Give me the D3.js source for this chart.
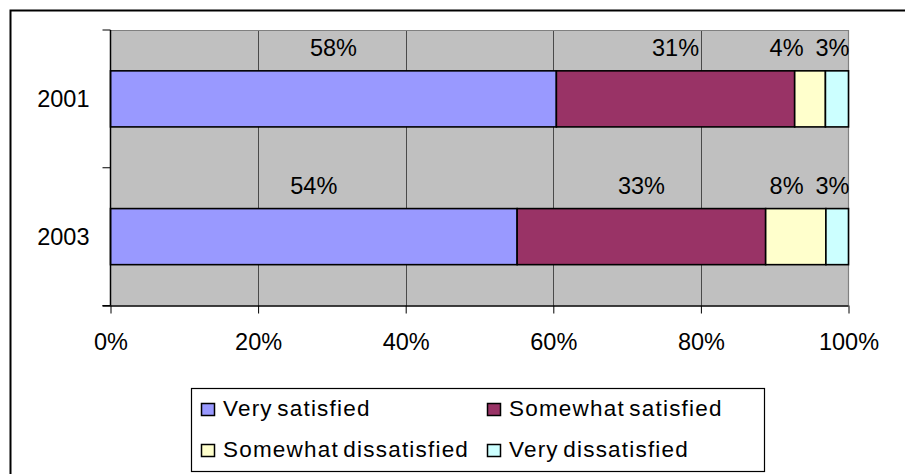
<!DOCTYPE html>
<html>
<head>
<meta charset="utf-8">
<script src="https://cdn.jsdelivr.net/npm/d3@7"></script>
<style>
  html, body { margin: 0; padding: 0; background: #fff; }
  svg { display: block; font-family: "Liberation Sans", Arial, sans-serif; }
</style>
</head>
<body>
<svg id="chart" width="905" height="474"></svg>
<script>
// ---- data ----
const years = ["2001", "2003"];
const seriesNames = ["Very satisfied", "Somewhat satisfied", "Somewhat dissatisfied", "Very dissatisfied"];
const verySatisfied = [58, 54];
const somewhatSatisfied = [31, 33];
const somewhatDissatisfied = [4, 8];
const veryDissatisfied = [3, 3];
const xTicks = [0, 0.2, 0.4, 0.6, 0.8, 1.0];
const colors = ["#9999FF", "#993366", "#FFFFCC", "#CCFFFF"];

const seriesValues = [verySatisfied, somewhatSatisfied, somewhatDissatisfied, veryDissatisfied];

const svg = d3.select("#chart");

// outer chart border (clipped on right/bottom like the reference)
svg.append("rect")
  .attr("x", 10.5).attr("y", 10.5)
  .attr("width", 1000).attr("height", 1000)
  .attr("fill", "#fff").attr("stroke", "#000").attr("stroke-width", 2);

const plot = { left: 110.5, right: 848.5, top: 30, bottom: 305.5 };

const x = d3.scaleLinear().domain([0, 1]).range([plot.left, plot.right]);
const y = d3.scaleBand().domain(years).range([plot.top, plot.bottom])
  .paddingInner(0.593).paddingOuter(0.2965);

// plot background
svg.append("rect")
  .attr("x", plot.left).attr("y", plot.top)
  .attr("width", plot.right - plot.left).attr("height", plot.bottom - plot.top)
  .attr("fill", "#C0C0C0");

// vertical gridlines
svg.append("g").selectAll("line")
  .data(xTicks.slice(1, -1))
  .join("line")
  .attr("x1", d => Math.round(x(d)) + 0.5).attr("x2", d => Math.round(x(d)) + 0.5)
  .attr("y1", plot.top).attr("y2", plot.bottom)
  .attr("stroke", "#4a4a4a").attr("stroke-width", 1);

// top and right plot border (gray)
svg.append("path")
  .attr("d", `M${plot.left},${plot.top + 0.5}H${plot.right}V${plot.bottom}`)
  .attr("fill", "none").attr("stroke", "#808080").attr("stroke-width", 1.2);

// stacked, normalized data
const rows = years.map((yr, i) => {
  const vals = seriesValues.map(s => s[i]);
  const total = d3.sum(vals);
  let acc = 0;
  return vals.map((v, k) => {
    const x0 = acc / total; acc += v; const x1 = acc / total;
    return { year: yr, k, v, x0, x1 };
  });
});

// bars
svg.append("g").selectAll("g")
  .data(rows)
  .join("g")
  .selectAll("rect")
  .data(d => d)
  .join("rect")
  .attr("x", d => x(d.x0))
  .attr("y", d => y(d.year))
  .attr("width", d => x(d.x1) - x(d.x0))
  .attr("height", y.bandwidth())
  .attr("fill", d => colors[d.k])
  .attr("stroke", "#000").attr("stroke-width", 1.6);

// data labels (centered above segments, pushed apart near the right edge)
const labelFont = 23.5;
const tmp = svg.append("text").attr("font-size", labelFont);
rows.forEach(row => {
  const labs = row.map(d => {
    tmp.text(d.v + "%");
    const w = tmp.node().getComputedTextLength();
    return { d, w, cx: (x(d.x0) + x(d.x1)) / 2 };
  });
  // right-to-left collision avoidance
  const gap = 12;
  let limit = plot.right + 1;
  for (let i = labs.length - 1; i >= 0; i--) {
    const L = labs[i];
    if (L.cx + L.w / 2 > limit) L.cx = limit - L.w / 2;
    limit = L.cx - L.w / 2 - gap;
  }
  svg.append("g").selectAll("text")
    .data(labs)
    .join("text")
    .attr("x", L => L.cx)
    .attr("y", L => y(L.d.year) - 15)
    .attr("text-anchor", "middle")
    .attr("font-size", labelFont)
    .attr("fill", "#000")
    .text(L => L.d.v + "%");
});
tmp.remove();

// x axis
const xAxis = svg.append("g")
  .attr("transform", `translate(0,${plot.bottom})`)
  .call(d3.axisBottom(x).tickValues(xTicks).tickFormat(d3.format(".0%")).tickSize(8).tickPadding(20));
xAxis.select(".domain").attr("d", `M${plot.left - 8},0.5H${plot.right}`).attr("stroke", "#000").attr("stroke-width", 1.5);
xAxis.selectAll(".tick line").attr("stroke", "#000");
xAxis.selectAll(".tick text").attr("font-size", 23.5).attr("fill", "#000")
  .attr("font-family", "Liberation Sans, Arial, sans-serif");

// y axis: line + ticks at category boundaries + labels
const boundaries = d3.range(years.length + 1).map(i => plot.top + i * (plot.bottom - plot.top) / years.length);
svg.append("line")
  .attr("x1", plot.left).attr("x2", plot.left)
  .attr("y1", plot.top).attr("y2", plot.bottom)
  .attr("stroke", "#000").attr("stroke-width", 1.5);
svg.append("g").selectAll("line")
  .data(boundaries)
  .join("line")
  .attr("x1", plot.left - 8).attr("x2", plot.left)
  .attr("y1", d => d).attr("y2", d => d)
  .attr("stroke", "#000").attr("stroke-width", 1);
svg.append("g").selectAll("text")
  .data(years)
  .join("text")
  .attr("x", plot.left - 21)
  .attr("y", d => y(d) + y.bandwidth() / 2 + 8)
  .attr("text-anchor", "end")
  .attr("font-size", 23.5)
  .attr("fill", "#000")
  .text(d => d);

// legend
const legend = svg.append("g");
legend.append("rect")
  .attr("x", 191.5).attr("y", 388.5).attr("width", 573).attr("height", 83)
  .attr("fill", "#fff").attr("stroke", "#000").attr("stroke-width", 1.2);
const colX = [201, 487];
const rowY = [403, 444];
const items = legend.selectAll("g")
  .data(seriesNames)
  .join("g")
  .attr("transform", (d, i) => `translate(${colX[i % 2]},${rowY[Math.floor(i / 2)]})`);
items.append("rect")
  .attr("x", 0.5).attr("y", 0.5).attr("width", 13).attr("height", 12)
  .attr("fill", (d, i) => colors[i]).attr("stroke", "#000").attr("stroke-width", 1.5);
items.append("text")
  .attr("x", 22).attr("y", 12.5)
  .attr("font-size", 22.5)
  .attr("letter-spacing", "1.2px")
  .attr("word-spacing", "-3px")
  .attr("fill", "#000")
  .text(d => d);
</script>
</body>
</html>
